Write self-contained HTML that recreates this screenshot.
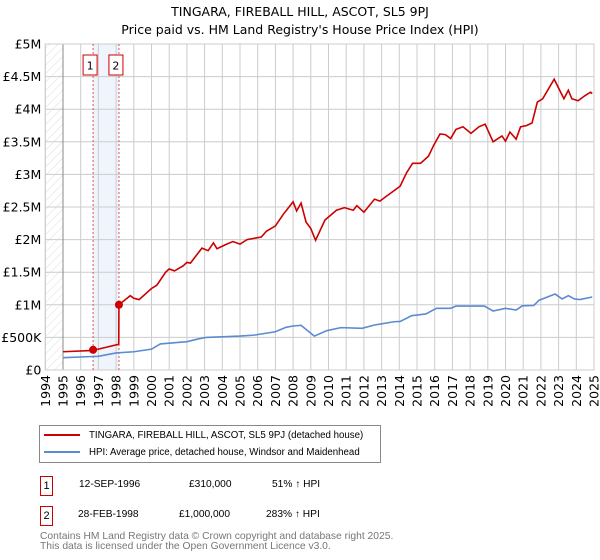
<!DOCTYPE html>
<html><head><meta charset="utf-8"><style>
body{margin:0;background:#fff;font-family:"Liberation Sans","DejaVu Sans",sans-serif;}
#wrap{position:relative;width:600px;height:560px;overflow:hidden}
.t{position:absolute;font-size:10.2px;color:#000;white-space:nowrap}
.le{position:absolute;left:4px;font-size:9.7px;white-space:nowrap;line-height:12px}
.le span{display:inline-block;width:36px;height:2px;vertical-align:middle;margin-right:9px}
</style></head><body>
<div id="wrap">
<svg id="chart" width="600" height="415" style="position:absolute;left:0;top:0"></svg>
<div style="position:absolute;left:39px;top:425px;width:340px;height:36px;border:1px solid #888;">
 <div class="le" style="top:4px"><span style="background:#cc0000"></span>TINGARA, FIREBALL HILL, ASCOT, SL5 9PJ (detached house)</div>
 <div class="le" style="top:21px"><span style="background:#5b8bd0"></span>HPI: Average price, detached house, Windsor and Maidenhead</div>
</div>
<div style="position:absolute;left:40px;top:476px;width:11px;height:18px;border:1px solid #cc0000;font-size:11px;text-align:center;line-height:18px">1</div>
<div class="t" style="left:79px;top:479px">12-SEP-1996</div>
<div class="t" style="left:189px;top:479px">£310,000</div>
<div class="t" style="left:272px;top:479px">51% ↑ HPI</div>
<div style="position:absolute;left:40px;top:506px;width:11px;height:18px;border:1px solid #cc0000;font-size:11px;text-align:center;line-height:18px">2</div>
<div class="t" style="left:78px;top:509px">28-FEB-1998</div>
<div class="t" style="left:179px;top:509px">£1,000,000</div>
<div class="t" style="left:266px;top:509px">283% ↑ HPI</div>
<div class="t" style="left:40px;top:532px;color:#777;font-size:10.3px;line-height:10px">Contains HM Land Registry data © Crown copyright and database right 2025.<br>This data is licensed under the Open Government Licence v3.0.</div>
</div>
<script>
const yTicks=[0,500000,1000000,1500000,2000000,2500000,3000000,3500000,4000000,4500000,5000000];
const yTickLabels=["£0","£500K","£1M","£1.5M","£2M","£2.5M","£3M","£3.5M","£4M","£4.5M","£5M"];
const years=[1994,1995,1996,1997,1998,1999,2000,2001,2002,2003,2004,2005,2006,2007,2008,2009,2010,2011,2012,2013,2014,2015,2016,2017,2018,2019,2020,2021,2022,2023,2024,2025];
const redT=[1995,1996.7,1997,1998.15,1998.16,1998.8,1999,1999.3,2000,2000.3,2000.8,2001,2001.3,2001.8,2002,2002.2,2002.85,2003.2,2003.5,2003.7,2004.25,2004.6,2005,2005.4,2006.2,2006.5,2007,2007.45,2007.6,2008,2008.2,2008.45,2008.73,2009,2009.27,2009.8,2010.45,2010.9,2011.4,2011.6,2012,2012.6,2012.9,2013.3,2013.9,2014.05,2014.4,2014.75,2015.2,2015.65,2015.95,2016.3,2016.6,2016.9,2017.2,2017.6,2018.05,2018.5,2018.85,2019.3,2019.8,2020,2020.25,2020.6,2020.85,2021.2,2021.5,2021.8,2022.1,2022.75,2023.3,2023.55,2023.75,2024.1,2024.5,2024.8,2024.9];
const redV=[280000,300000,320000,395000,1000000,1140000,1100000,1080000,1250000,1300000,1500000,1550000,1520000,1600000,1650000,1640000,1870000,1830000,1950000,1860000,1930000,1970000,1930000,2000000,2040000,2130000,2210000,2390000,2440000,2580000,2440000,2560000,2270000,2170000,1990000,2300000,2450000,2490000,2450000,2520000,2420000,2620000,2590000,2670000,2790000,2820000,3020000,3170000,3170000,3280000,3450000,3620000,3610000,3550000,3690000,3730000,3630000,3730000,3770000,3500000,3590000,3510000,3650000,3540000,3730000,3750000,3790000,4110000,4160000,4460000,4160000,4290000,4160000,4130000,4210000,4260000,4240000];
const hpiT=[1995,1996.5,1997,1998,1999,2000,2000.5,2002,2002.7,2003.1,2005,2005.8,2007,2007.6,2008,2008.45,2009.2,2009.9,2010.7,2011.9,2012.6,2013.7,2014.05,2014.7,2015.5,2016.1,2016.9,2017.2,2018.8,2019.3,2020,2020.6,2020.95,2021.6,2021.9,2022.8,2023.2,2023.55,2023.9,2024.2,2024.9];
const hpiV=[189000,205000,210000,262000,280000,320000,400000,434000,480000,500000,520000,535000,587000,655000,675000,685000,520000,603000,650000,640000,690000,740000,745000,833000,860000,946000,946000,980000,980000,905000,946000,920000,985000,990000,1070000,1165000,1090000,1140000,1090000,1080000,1120000];
const sales=[{t:1996.7,v:310000,n:"1"},{t:1998.16,v:1000000,n:"2"}];

const NS="http://www.w3.org/2000/svg";
const svg=document.getElementById('chart');
const L=45.3,R=594,T=44,B=370;
const X=t=>L+(t-1994)*(R-L)/31;
const Y=v=>B-v*(B-T)/5000000;
const FONT='DejaVu Sans, Liberation Sans, sans-serif';
function mk(tag,attrs,parent){const e=document.createElementNS(NS,tag);for(const k in attrs)e.setAttribute(k,attrs[k]);(parent||svg).appendChild(e);return e;}
const defs=mk('defs',{});
const pat=mk('pattern',{id:'hatch',width:6,height:6,patternUnits:'userSpaceOnUse',patternTransform:'rotate(45)'},defs);
mk('line',{x1:0,y1:0,x2:0,y2:6,stroke:'#ddd','stroke-width':1},pat);
let e=mk('rect',{x:L,y:T,width:X(1995)-L,height:B-T,fill:'url(#hatch)'});


e=mk('rect',{x:X(sales[0].t),y:T,width:X(sales[1].t)-X(sales[0].t),height:B-T,fill:'#f0f4fc'});


yTicks.forEach((v,i)=>{
 const g=mk('line',{x1:L,x2:R,y1:Y(v),y2:Y(v),stroke:'#ccc','stroke-width':1});
 
 
 const tx=mk('text',{x:L-4,y:Y(v)+4.5,'text-anchor':'end','font-size':12.5,fill:'#000','font-family':FONT});
 tx.textContent=yTickLabels[i];
 
 
});
years.forEach(yr=>{
 const g=mk('line',{x1:X(yr),x2:X(yr),y1:T,y2:B,stroke:'#ccc','stroke-width':1});
 
 
 const tx=mk('text',{x:0,y:0,'text-anchor':'end','font-size':12.5,fill:'#000','font-family':FONT,transform:`translate(${X(yr)+4.5},${B+5}) rotate(-90)`});
 tx.textContent=yr;
 
 
});
e=mk('line',{x1:X(1995),x2:X(1995),y1:T,y2:B,stroke:'#888'});


e=mk('rect',{x:L,y:T,width:R-L,height:B-T,fill:'none',stroke:'#ccc'});


sales.forEach((s,i)=>{
 const l=mk('line',{x1:X(s.t),x2:X(s.t),y1:T,y2:B,stroke:'#e05050','stroke-dasharray':'2,2','stroke-width':1});
 
 
 const r=mk('rect',{x:X(s.t)-10,y:55,width:14,height:20,fill:'#fff',stroke:'#cc0000'});
 
 
 const tx=mk('text',{x:X(s.t)-3,y:69.5,'text-anchor':'middle','font-size':11,'font-family':FONT});
 tx.textContent=s.n;
 
 
});
e=mk('polyline',{points:hpiT.map((t,i)=>X(t)+','+Y(hpiV[i])).join(' '),fill:'none',stroke:'#5b8bd0','stroke-width':1.6});


e=mk('polyline',{points:redT.map((t,i)=>X(t)+','+Y(redV[i])).join(' '),fill:'none',stroke:'#cc0000','stroke-width':1.6});


sales.forEach(s=>{
 const c=mk('circle',{cx:X(s.t),cy:Y(s.v),r:4,fill:'#cc0000'});
 
 
});
[["TINGARA, FIREBALL HILL, ASCOT, SL5 9PJ",16],["Price paid vs. HM Land Registry's House Price Index (HPI)",34]].forEach((a,i)=>{
 const tx=mk('text',{x:300,y:a[1],'text-anchor':'middle','font-size':12.5,'font-family':FONT});
 tx.textContent=a[0];
 
 
});
</script>
</body></html>
